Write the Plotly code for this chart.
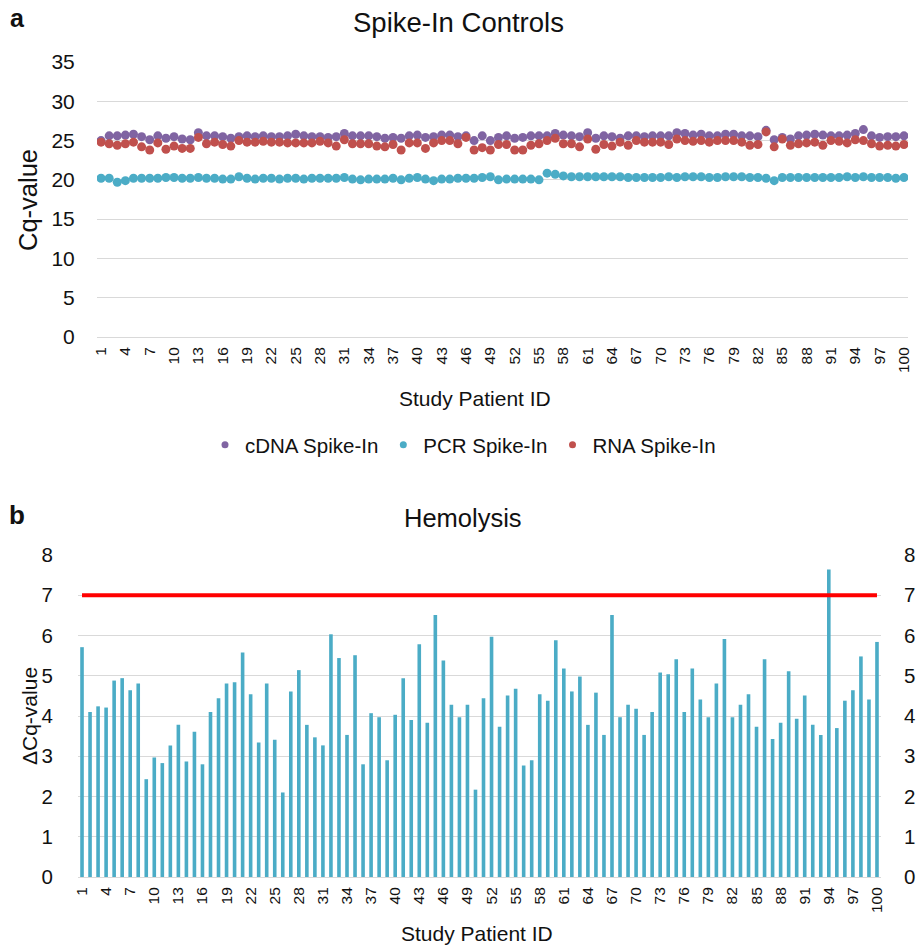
import plotly.graph_objects as go

patient_ids = [str(i) for i in range(1, 101)]
tick_labels = [str(i) for i in range(1, 101, 3)]

cdna_spike = [25.0, 25.6, 25.6, 25.7, 25.8, 25.5, 25.1, 25.6, 25.3, 25.5,
              25.2, 25.1, 26.0, 25.6, 25.6, 25.5, 25.3, 25.5, 25.6, 25.5,
              25.6, 25.5, 25.5, 25.6, 25.8, 25.6, 25.5, 25.5, 25.4, 25.5,
              25.9, 25.6, 25.6, 25.6, 25.5, 25.3, 25.4, 25.3, 25.6, 25.7,
              25.4, 25.5, 25.7, 25.7, 25.5, 25.6, 25.0, 25.6, 25.0, 25.4,
              25.6, 25.3, 25.4, 25.6, 25.6, 25.6, 25.9, 25.7, 25.6, 25.5,
              26.0, 25.3, 25.6, 25.5, 25.3, 25.6, 25.6, 25.5, 25.6, 25.6,
              25.6, 26.0, 25.9, 25.7, 25.8, 25.6, 25.6, 25.8, 25.8, 25.6,
              25.6, 25.5, 26.3, 25.1, 25.4, 25.2, 25.6, 25.7, 25.8, 25.7,
              25.6, 25.6, 25.7, 25.9, 26.4, 25.6, 25.4, 25.5, 25.5, 25.6]

pcr_spike = [20.2, 20.2, 19.7, 19.9, 20.2, 20.2, 20.2, 20.2, 20.3, 20.3,
             20.2, 20.2, 20.3, 20.2, 20.2, 20.1, 20.1, 20.4, 20.2, 20.1,
             20.2, 20.2, 20.1, 20.2, 20.2, 20.1, 20.2, 20.2, 20.2, 20.2,
             20.3, 20.1, 20.0, 20.1, 20.1, 20.1, 20.2, 20.0, 20.2, 20.3,
             20.1, 19.9, 20.1, 20.1, 20.2, 20.2, 20.2, 20.3, 20.4, 20.0,
             20.1, 20.1, 20.1, 20.1, 20.0, 20.85, 20.7, 20.5, 20.4, 20.4,
             20.4, 20.4, 20.4, 20.4, 20.4, 20.3, 20.3, 20.3, 20.3, 20.3,
             20.4, 20.3, 20.4, 20.4, 20.4, 20.3, 20.3, 20.4, 20.4, 20.4,
             20.3, 20.3, 20.2, 19.9, 20.3, 20.3, 20.3, 20.3, 20.3, 20.3,
             20.3, 20.3, 20.4, 20.3, 20.4, 20.3, 20.3, 20.3, 20.2, 20.3]

rna_spike = [24.8, 24.6, 24.4, 24.6, 24.8, 24.2, 23.8, 24.7, 23.9, 24.3,
             24.0, 24.0, 25.4, 24.6, 24.8, 24.5, 24.3, 25.0, 24.8, 24.8,
             24.9, 24.8, 24.8, 24.7, 24.7, 24.7, 24.7, 24.9, 24.7, 24.3,
             25.1, 24.6, 24.6, 24.6, 24.3, 24.2, 24.5, 23.8, 24.7, 24.7,
             24.0, 24.7, 25.0, 25.0, 24.6, 25.4, 23.8, 24.1, 23.8, 24.5,
             24.5, 23.8, 23.8, 24.4, 24.6, 25.0, 25.3, 24.6, 24.6, 24.2,
             25.2, 23.9, 24.5, 24.3, 24.8, 24.4, 25.0, 24.8, 24.8, 24.8,
             24.5, 25.2, 25.0, 24.9, 25.0, 24.8, 25.0, 25.0, 25.0, 24.8,
             24.4, 24.5, 26.1, 24.2, 25.2, 24.4, 24.6, 24.7, 24.8, 24.4,
             25.0, 24.9, 24.7, 25.1, 25.0, 24.6, 24.3, 24.4, 24.3, 24.5]

delta_cq = [5.71, 4.10, 4.24, 4.21, 4.88, 4.94, 4.64, 4.81, 2.43, 2.97,
            2.83, 3.27, 3.78, 2.87, 3.61, 2.80, 4.10, 4.44, 4.81, 4.84,
            5.58, 4.54, 3.34, 4.81, 3.41, 2.10, 4.61, 5.14, 3.78, 3.47,
            3.27, 6.03, 5.44, 3.53, 5.51, 2.80, 4.07, 3.97, 2.90, 4.03,
            4.94, 3.90, 5.78, 3.83, 6.51, 5.38, 4.28, 3.97, 4.28, 2.17,
            4.44, 5.97, 3.73, 4.51, 4.68, 2.77, 2.90, 4.54, 4.38, 5.88,
            5.18, 4.61, 4.98, 3.78, 4.58, 3.53, 6.51, 3.97, 4.28, 4.18,
            3.53, 4.10, 5.08, 5.04, 5.41, 4.10, 5.18, 4.41, 3.97, 4.81,
            5.91, 3.97, 4.28, 4.54, 3.73, 5.41, 3.43, 3.83, 5.11, 3.93,
            4.51, 3.78, 3.53, 7.64, 3.70, 4.38, 4.64, 5.48, 4.41, 5.84]

hemolysis_threshold = 7

PURPLE = "#8064A2"
AQUA = "#4BACC6"
RED = "#C0504D"
GRID = "#D9D9D9"
TXT = "#111111"
FONT = "Liberation Sans, Arial, sans-serif"
CLEAR = "rgba(0,0,0,0)"

W, H = 923, 946

def px_x(v):
    return v / W

def px_y(v):
    return 1 - v / H

fig = go.Figure()

series = [("cDNA Spike-In", cdna_spike, PURPLE),
          ("PCR Spike-In", pcr_spike, AQUA),
          ("RNA Spike-In", rna_spike, RED)]
for name, vals, col in series:
    fig.add_trace(go.Scatter(x=patient_ids, y=vals, mode="markers", name=name,
                             marker=dict(color=col, size=9, line=dict(width=0)),
                             showlegend=False, xaxis="x", yaxis="y"))
for name, vals, col in series:
    fig.add_trace(go.Scatter(x=[None], y=[None], mode="markers", name=name,
                             marker=dict(color=col, size=7), showlegend=True,
                             xaxis="x", yaxis="y"))

fig.add_trace(go.Bar(x=patient_ids, y=delta_cq, marker=dict(color=AQUA, line=dict(width=0)),
                     showlegend=False, xaxis="x2", yaxis="y2"))
fig.add_trace(go.Scatter(x=[patient_ids[0], patient_ids[-1]],
                         y=[hemolysis_threshold, hemolysis_threshold],
                         mode="lines", line=dict(color="#FF0000", width=4),
                         showlegend=False, xaxis="x2", yaxis="y2"))
fig.add_trace(go.Scatter(x=[patient_ids[0]], y=[0], mode="markers",
                         marker=dict(opacity=0), showlegend=False,
                         hoverinfo="skip", xaxis="x2", yaxis="y3"))

common_x = dict(type="category", tickmode="array", tickvals=tick_labels,
                ticktext=tick_labels, tickangle=-90, showgrid=False,
                showline=False, zeroline=False, ticks="outside", ticklen=3,
                tickcolor=CLEAR, automargin=False,
                tickfont=dict(family=FONT, size=15.5, color=TXT))

fig.update_layout(
    width=W, height=H,
    margin=dict(l=0, r=0, t=0, b=0, autoexpand=False),
    plot_bgcolor="white", paper_bgcolor="white",
    bargap=0.55,
    font=dict(family=FONT, color=TXT),
    xaxis=dict(domain=[px_x(97), px_x(908)], anchor="y",
               range=[-0.5, 99.5], **common_x),
    yaxis=dict(domain=[px_y(337), px_y(62)], anchor="x", range=[0, 35],
               tickvals=[0, 5, 10, 15, 20, 25, 30, 35], showgrid=True,
               gridcolor=GRID, gridwidth=1, zeroline=True, zerolinecolor=GRID,
               zerolinewidth=1, showline=False, ticks="outside", ticklen=17,
               tickcolor=CLEAR, automargin=False,
               tickfont=dict(family=FONT, size=21, color=TXT)),
    xaxis2=dict(domain=[px_x(78), px_x(881)], anchor="y2",
                range=[-0.5, 99.5], **common_x),
    yaxis2=dict(domain=[px_y(877), px_y(555)], anchor="x2", range=[0, 8],
                tickvals=list(range(0, 9)), showgrid=True, gridcolor=GRID,
                gridwidth=1, zeroline=True, zerolinecolor=GRID, zerolinewidth=1,
                showline=False, ticks="outside", ticklen=20, tickcolor=CLEAR,
                automargin=False,
                tickfont=dict(family=FONT, size=20.5, color=TXT)),
    yaxis3=dict(overlaying="y2", side="right", anchor="x2", range=[0, 8],
                tickvals=list(range(0, 9)), showgrid=False, zeroline=False,
                showline=False, ticks="outside", ticklen=18, tickcolor=CLEAR,
                automargin=False,
                tickfont=dict(family=FONT, size=20.5, color=TXT)),
    legend=dict(orientation="h", x=px_x(463), xanchor="center", y=px_y(445),
                yanchor="middle", font=dict(family=FONT, size=20.5, color=TXT),
                itemsizing="trace", tracegroupgap=0, itemwidth=30,
                bgcolor=CLEAR),
)

annotations = [
    dict(text="<b>a</b>", x=px_x(17), y=px_y(18), xanchor="center", yanchor="middle",
         font=dict(size=25, family=FONT, color=TXT)),
    dict(text="Spike-In Controls", x=px_x(458), y=px_y(22), xanchor="center", yanchor="middle",
         font=dict(size=27.5, family=FONT, color=TXT)),
    dict(text="Cq-value", x=px_x(28), y=px_y(200), xanchor="center", yanchor="middle",
         textangle=-90, font=dict(size=25.5, family=FONT, color=TXT)),
    dict(text="Study Patient ID", x=px_x(475), y=px_y(398), xanchor="center", yanchor="middle",
         font=dict(size=21, family=FONT, color=TXT)),
    dict(text="<b>b</b>", x=px_x(17), y=px_y(515), xanchor="center", yanchor="middle",
         font=dict(size=26, family=FONT, color=TXT)),
    dict(text="Hemolysis", x=px_x(463), y=px_y(518), xanchor="center", yanchor="middle",
         font=dict(size=25.5, family=FONT, color=TXT)),
    dict(text="ΔCq-value", x=px_x(29), y=px_y(716), xanchor="center", yanchor="middle",
         textangle=-90, font=dict(size=21, family=FONT, color=TXT)),
    dict(text="Study Patient ID", x=px_x(477), y=px_y(933), xanchor="center", yanchor="middle",
         font=dict(size=21, family=FONT, color=TXT)),
]
for a in annotations:
    a.update(xref="paper", yref="paper", showarrow=False)
fig.update_layout(annotations=annotations)

fig.write_html("out.html",
               config={"displayModeBar": False},
               post_script="document.body.style.margin='0';"
                           "document.body.style.overflow='hidden';")
